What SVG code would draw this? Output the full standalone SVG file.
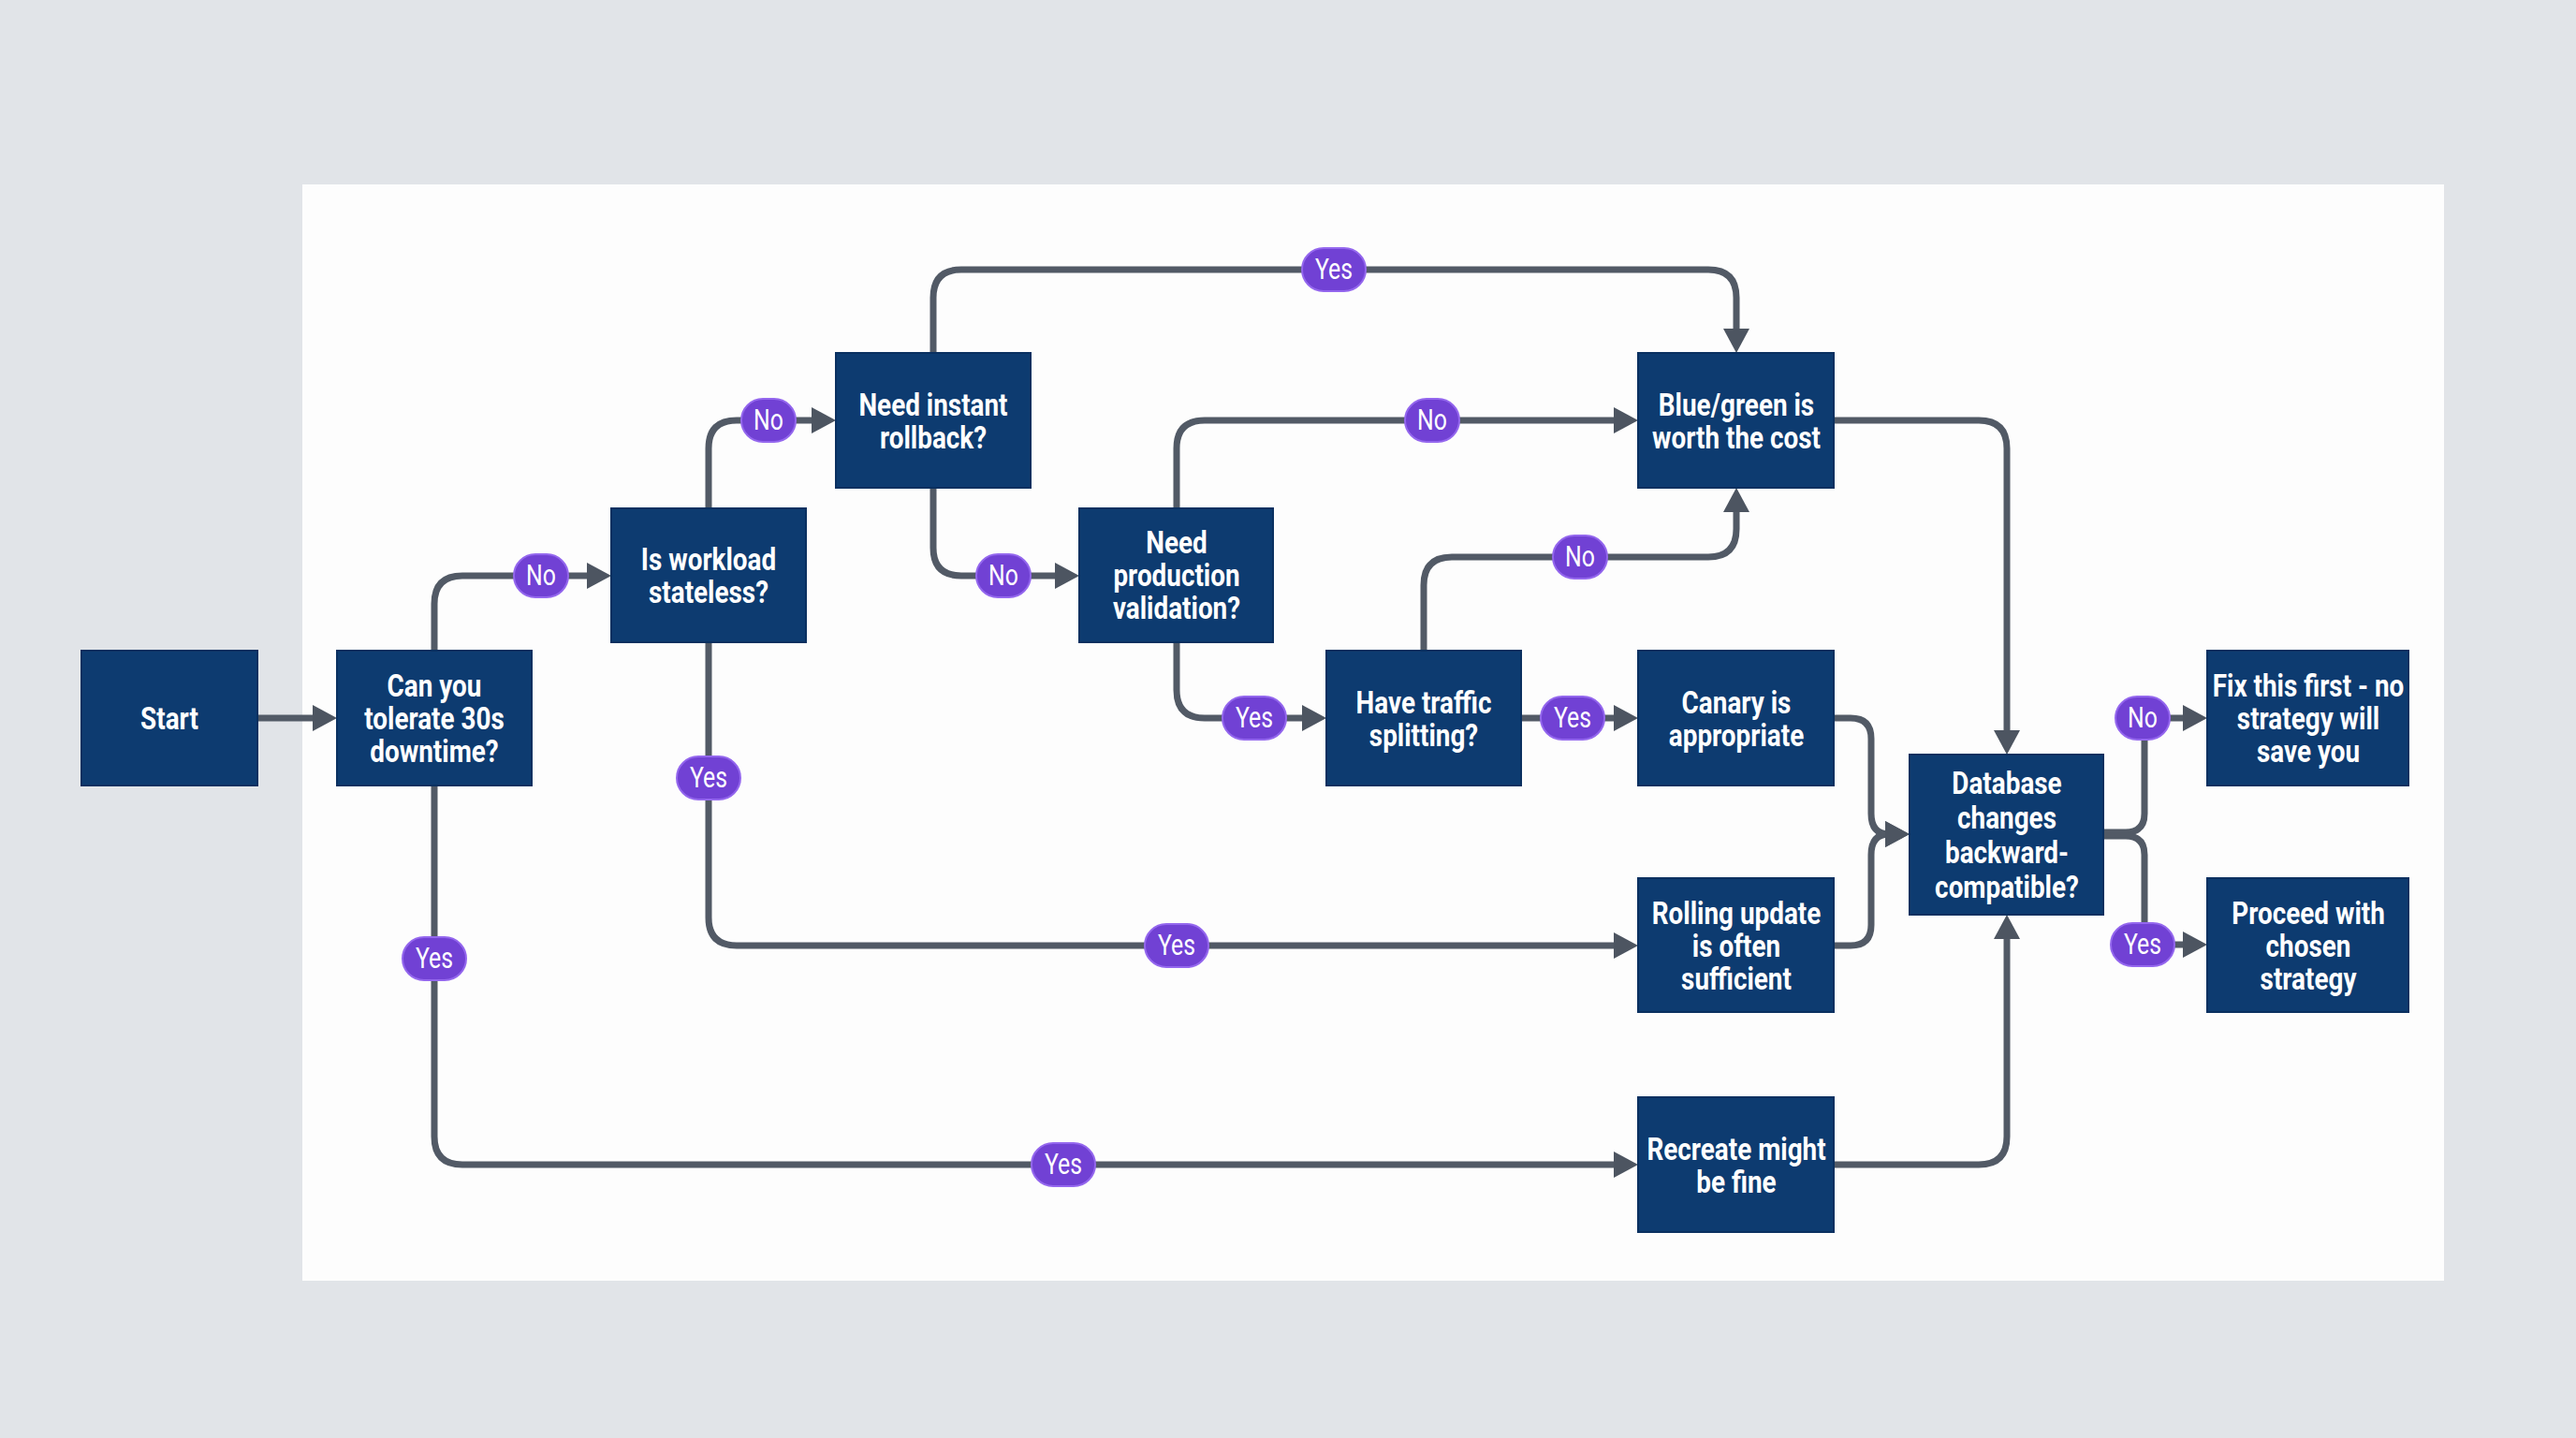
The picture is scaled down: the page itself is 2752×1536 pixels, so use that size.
<svg xmlns="http://www.w3.org/2000/svg" width="2752" height="1536" viewBox="0 0 2752 1536">
<defs>
<marker id="arr" markerUnits="userSpaceOnUse" markerWidth="28" markerHeight="30" refX="4" refY="14" orient="auto" viewBox="0 0 28 30">
<path d="M0,0 L26,14 L0,28 z" fill="#4d5561"/>
</marker>
<style>
.node rect{fill:#0d3b70;stroke:#0a3060;stroke-width:2}
.node text{fill:#ffffff;font-family:"Roboto","Liberation Sans",sans-serif;font-weight:700;font-size:34px;text-anchor:middle;dominant-baseline:central}
.conn path{fill:none;stroke:#525a66;stroke-width:7}
.conn path.a{marker-end:url(#arr)}
.pill rect{fill:#7141d4;stroke:#9467ee;stroke-width:2}
.pill text{fill:#ffffff;font-family:"Roboto","Liberation Sans",sans-serif;font-weight:400;font-size:31px;text-anchor:middle;dominant-baseline:central}
</style>
</defs>
<rect x="0" y="0" width="2752" height="1536" fill="#e1e4e8"/>
<rect x="323" y="197" width="2288" height="1171" fill="#fdfdfd"/>

<g id="connectors" class="conn">
<path class="a" d="M275 767 H338"/>
<path class="a" d="M464 695 V645 Q464 615 494 615 H631"/>
<path class="a" d="M464 839 V1214 Q464 1244 494 1244 H1728"/>
<path class="a" d="M757 543 V479 Q757 449 787 449 H871"/>
<path class="a" d="M757 686 V980 Q757 1010 787 1010 H1728"/>
<path class="a" d="M997 377 V318 Q997 288 1027 288 H1825 Q1855 288 1855 318 V355"/>
<path class="a" d="M997 521 V585 Q997 615 1027 615 H1131"/>
<path class="a" d="M1257 543 V479 Q1257 449 1287 449 H1728"/>
<path class="a" d="M1257 686 V737 Q1257 767 1287 767 H1395"/>
<path class="a" d="M1521 695 V625 Q1521 595 1551 595 H1825 Q1855 595 1855 565 V543"/>
<path class="a" d="M1625 767 H1728"/>
<path class="a" d="M1959 449 H2114 Q2144 449 2144 479 V784"/>
<path class="a" d="M1959 767 H1977 Q1999 767 1999 789 V869 Q1999 891 2018 891"/>
<path class="a" d="M1959 1010 H1977 Q1999 1010 1999 988 V913 Q1999 891 2018 891"/>
<path class="a" d="M1959 1244 H2114 Q2144 1244 2144 1214 V999"/>
<path class="a" d="M2247 889 H2271 Q2291 889 2291 869 V787 Q2291 767 2311 767 H2336"/>
<path class="a" d="M2247 893 H2271 Q2291 893 2291 913 V989 Q2291 1009 2311 1009 H2336"/>
</g>

<g id="labels">
<g class="pill"><rect x="549" y="592" width="58" height="46" rx="23"/><text transform="translate(578 615) scale(0.8 1)">No</text></g>
<g class="pill"><rect x="430" y="1001" width="68" height="46" rx="23"/><text transform="translate(464 1024) scale(0.8 1)">Yes</text></g>
<g class="pill"><rect x="1102" y="1221" width="68" height="46" rx="23"/><text transform="translate(1136 1244) scale(0.8 1)">Yes</text></g>
<g class="pill"><rect x="792" y="426" width="58" height="46" rx="23"/><text transform="translate(821 449) scale(0.8 1)">No</text></g>
<g class="pill"><rect x="723" y="808" width="68" height="46" rx="23"/><text transform="translate(757 831) scale(0.8 1)">Yes</text></g>
<g class="pill"><rect x="1223" y="987" width="68" height="46" rx="23"/><text transform="translate(1257 1010) scale(0.8 1)">Yes</text></g>
<g class="pill"><rect x="1391" y="265" width="68" height="46" rx="23"/><text transform="translate(1425 288) scale(0.8 1)">Yes</text></g>
<g class="pill"><rect x="1043" y="592" width="58" height="46" rx="23"/><text transform="translate(1072 615) scale(0.8 1)">No</text></g>
<g class="pill"><rect x="1501" y="426" width="58" height="46" rx="23"/><text transform="translate(1530 449) scale(0.8 1)">No</text></g>
<g class="pill"><rect x="1306" y="744" width="68" height="46" rx="23"/><text transform="translate(1340 767) scale(0.8 1)">Yes</text></g>
<g class="pill"><rect x="1659" y="572" width="58" height="46" rx="23"/><text transform="translate(1688 595) scale(0.8 1)">No</text></g>
<g class="pill"><rect x="1646" y="744" width="68" height="46" rx="23"/><text transform="translate(1680 767) scale(0.8 1)">Yes</text></g>
<g class="pill"><rect x="2260" y="744" width="58" height="46" rx="23"/><text transform="translate(2289 767) scale(0.8 1)">No</text></g>
<g class="pill"><rect x="2255" y="986" width="68" height="46" rx="23"/><text transform="translate(2289 1009) scale(0.8 1)">Yes</text></g>
</g>

<g id="start" class="node"><rect x="87" y="695" width="188" height="144"/><text transform="translate(181 767) scale(0.82 1)"><tspan x="0" y="0">Start</tspan></text></g>
<g id="tolerate" class="node"><rect x="360" y="695" width="208" height="144"/><text transform="translate(464 767) scale(0.82 1)"><tspan x="0" y="-35">Can you</tspan><tspan x="0" y="0">tolerate 30s</tspan><tspan x="0" y="35">downtime?</tspan></text></g>
<g id="stateless" class="node"><rect x="653" y="543" width="208" height="143"/><text transform="translate(757 614) scale(0.82 1)"><tspan x="0" y="-17.5">Is workload</tspan><tspan x="0" y="17.5">stateless?</tspan></text></g>
<g id="rollback" class="node"><rect x="893" y="377" width="208" height="144"/><text transform="translate(997 449) scale(0.82 1)"><tspan x="0" y="-17.5">Need instant</tspan><tspan x="0" y="17.5">rollback?</tspan></text></g>
<g id="prodval" class="node"><rect x="1153" y="543" width="207" height="143"/><text transform="translate(1257 614) scale(0.82 1)"><tspan x="0" y="-35">Need</tspan><tspan x="0" y="0">production</tspan><tspan x="0" y="35">validation?</tspan></text></g>
<g id="traffic" class="node"><rect x="1417" y="695" width="208" height="144"/><text transform="translate(1521 767) scale(0.82 1)"><tspan x="0" y="-17.5">Have traffic</tspan><tspan x="0" y="17.5">splitting?</tspan></text></g>
<g id="bluegreen" class="node"><rect x="1750" y="377" width="209" height="144"/><text transform="translate(1855 449) scale(0.82 1)"><tspan x="0" y="-17.5">Blue/green is</tspan><tspan x="0" y="17.5">worth the cost</tspan></text></g>
<g id="canary" class="node"><rect x="1750" y="695" width="209" height="144"/><text transform="translate(1855 767) scale(0.82 1)"><tspan x="0" y="-17.5">Canary is</tspan><tspan x="0" y="17.5">appropriate</tspan></text></g>
<g id="rolling" class="node"><rect x="1750" y="938" width="209" height="143"/><text transform="translate(1855 1010) scale(0.82 1)"><tspan x="0" y="-35">Rolling update</tspan><tspan x="0" y="0">is often</tspan><tspan x="0" y="35">sufficient</tspan></text></g>
<g id="recreate" class="node"><rect x="1750" y="1172" width="209" height="144"/><text transform="translate(1855 1244) scale(0.82 1)"><tspan x="0" y="-17.5">Recreate might</tspan><tspan x="0" y="17.5">be fine</tspan></text></g>
<g id="database" class="node"><rect x="2040" y="806" width="207" height="171"/><text transform="translate(2144 891) scale(0.82 1)" font-size="33"><tspan x="0" y="-55.5">Database</tspan><tspan x="0" y="-18.5">changes</tspan><tspan x="0" y="18.5">backward-</tspan><tspan x="0" y="55.5">compatible?</tspan></text></g>
<g id="fixfirst" class="node"><rect x="2358" y="695" width="215" height="144"/><text transform="translate(2466 767) scale(0.82 1)"><tspan x="0" y="-35">Fix this first - no</tspan><tspan x="0" y="0">strategy will</tspan><tspan x="0" y="35">save you</tspan></text></g>
<g id="proceed" class="node"><rect x="2358" y="938" width="215" height="143"/><text transform="translate(2466 1010) scale(0.82 1)"><tspan x="0" y="-35">Proceed with</tspan><tspan x="0" y="0">chosen</tspan><tspan x="0" y="35">strategy</tspan></text></g>
</svg>
